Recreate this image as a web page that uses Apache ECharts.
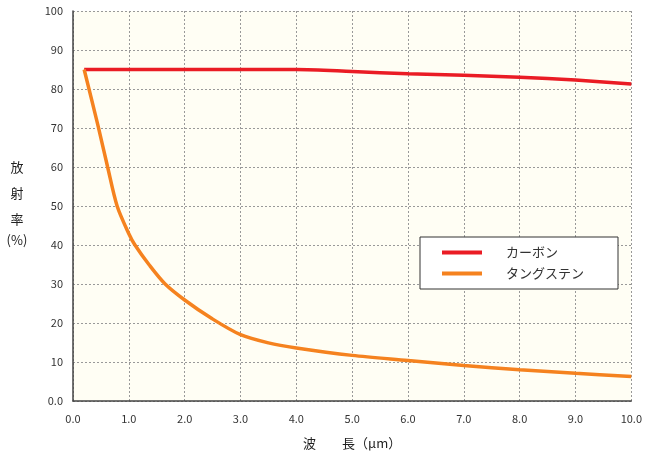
<!DOCTYPE html>
<html>
<head>
<meta charset="utf-8">
<script src="https://cdn.jsdelivr.net/npm/echarts@6/dist/echarts.min.js"></script>
<style>html,body{margin:0;padding:0;background:#fff}#c{width:645px;height:455px}</style>
</head>
<body>
<div id="c"></div>
<script>
const seriesNames = ['カーボン', 'タングステン'];
const carbonX = [0.2, 1, 2, 3, 4, 5, 6, 7, 8, 9, 10];
const carbonY = [85, 85, 85, 85, 85, 84.5, 83.9, 83.5, 83.0, 82.3, 81.3];
const tungstenX = [0.2, 0.45, 0.62, 0.79, 1.0, 1.11, 1.37, 1.65, 2.0, 2.48, 3.0, 3.5, 4.0, 5.0, 6.0, 7.0, 8.0, 9.0, 10.0];
const tungstenY = [85, 70.5, 60, 50, 42.9, 40, 34.8, 30, 25.9, 21.2, 17, 14.9, 13.6, 11.7, 10.4, 9.1, 8.0, 7.1, 6.3];
const xName = '波　　長（μm）';
const yNameLines = ['放', '射', '率', '(%)'];

const font = '"Noto Sans CJK JP", "Noto Sans", sans-serif';
const chart = echarts.init(document.getElementById('c'));
chart.setOption({
  animation: false,
  textStyle: { fontFamily: font },
  grid: { left: 73, right: 13, top: 11, bottom: 52, show: true, backgroundColor: '#fffef4', borderWidth: 0 },
  legend: {
    orient: 'vertical', left: 420, top: 237,
    padding: [9, 34, 9, 22],
    backgroundColor: '#fff', borderColor: '#333', borderWidth: 1,
    icon: 'rect', itemWidth: 40, itemHeight: 4, itemGap: 8,
    textStyle: { fontSize: 13, color: '#333', fontFamily: font, padding: [0, 0, 0, 19] },
    data: seriesNames
  },
  xAxis: {
    type: 'value', min: 0, max: 10, interval: 1,
    name: xName, nameLocation: 'middle', nameGap: 36,
    nameTextStyle: { fontSize: 13, color: '#222', fontFamily: font },
    axisLine: { lineStyle: { color: '#444', width: 1.5 } },
    axisTick: { show: false },
    axisLabel: { color: '#333', fontSize: 11, margin: 12, formatter: v => v.toFixed(1) },
    splitLine: { show: true, lineStyle: { color: '#999', type: [2, 2], width: 1 } }
  },
  yAxis: {
    type: 'value', min: 0, max: 100, interval: 10,
    axisLine: { show: true, lineStyle: { color: '#444', width: 1.5 } },
    axisTick: { show: false },
    axisLabel: { color: '#333', fontSize: 11, margin: 10, formatter: v => v === 0 ? '0.0' : String(v) },
    splitLine: { show: true, lineStyle: { color: '#999', type: [2, 2], width: 1 } }
  },
  graphic: yNameLines.map((t, i) => ({
    type: 'text', x: 17, y: 167 + i * 26 + (i === 3 ? -5 : 0),
    style: { text: t, fill: '#222', font: '13px ' + font, textAlign: 'center', textVerticalAlign: 'middle' }
  })),
  series: [
    {
      name: seriesNames[0], type: 'line', smooth: 0.3, showSymbol: false,
      color: '#ea1c24', lineStyle: { width: 3.5, color: '#ea1c24' },
      data: carbonX.map((x, i) => [x, carbonY[i]])
    },
    {
      name: seriesNames[1], type: 'line', smooth: 0.3, showSymbol: false,
      color: '#f5821f', lineStyle: { width: 3.5, color: '#f5821f' },
      data: tungstenX.map((x, i) => [x, tungstenY[i]])
    }
  ]
});
</script>
</body>
</html>
